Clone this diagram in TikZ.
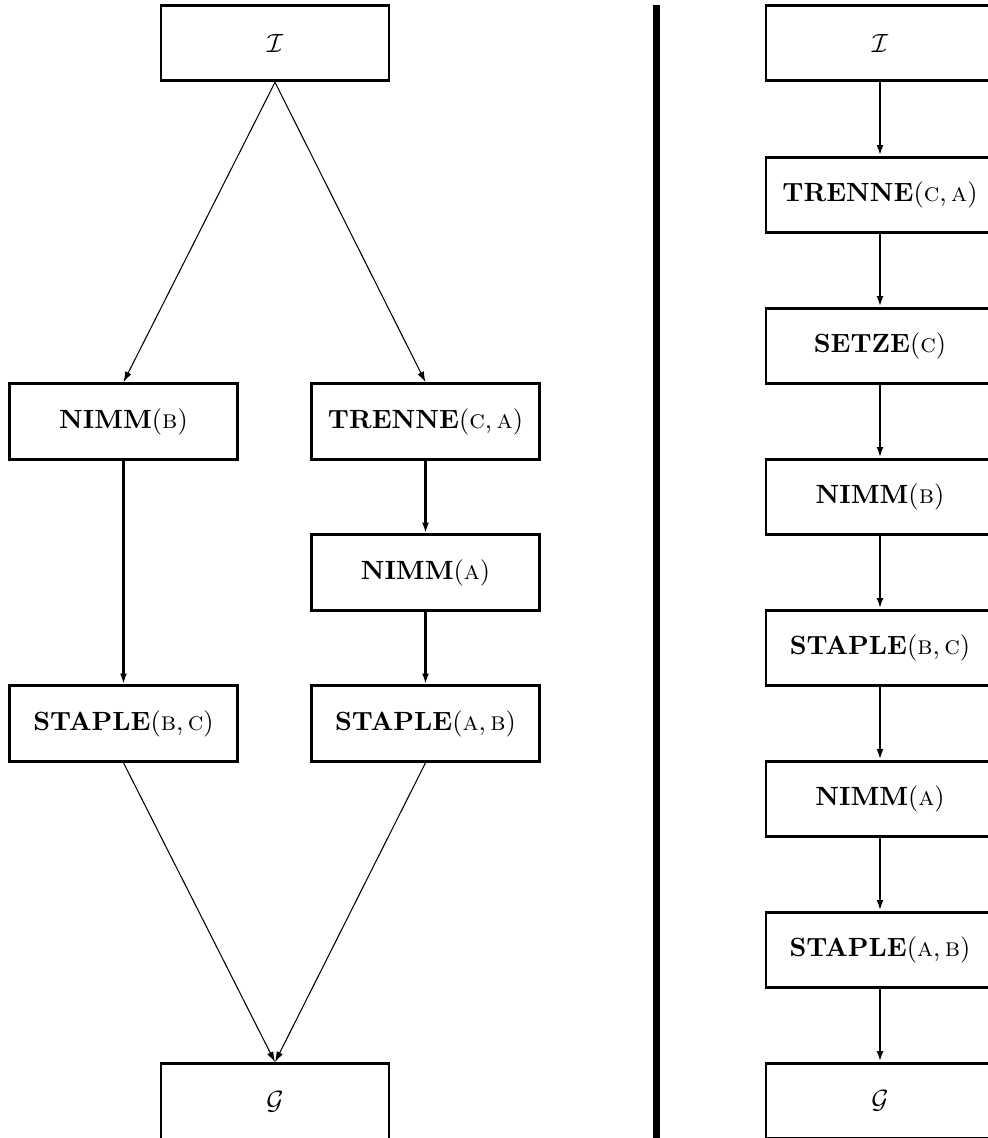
\documentclass[tikz,border=0pt]{standalone}
\usetikzlibrary{arrows.meta}

\tikzset{
  opbox/.style={draw, line width=1.1pt, minimum width=3.04cm, minimum height=1.01cm, inner sep=0pt},
  flow/.style={-{Latex[length=4pt,width=2.6pt]}, line width=0.8pt},
  slant/.style={-{Latex[length=4pt,width=2.6pt]}, line width=0.4pt},
}
\newcommand{\opname}[2]{\textbf{#1}(#2)}

\begin{document}
\begin{tikzpicture}[x=0.01333cm, y=-0.01333cm]
  \useasboundingbox (0,0) rectangle (987,1138);

  % Left plan (parallel)
  \node [opbox] (lstart) at (275, 43) {$\mathcal{I}$};
  \node [opbox] (lnimmb) at (123.5, 421.5) {\opname{NIMM}{\textsc{b}}};
  \node [opbox] (ltrenne) at (425.5, 421.5) {\opname{TRENNE}{\textsc{c},\,\textsc{a}}};
  \node [opbox] (lnimma) at (425.5, 572.5) {\opname{NIMM}{\textsc{a}}};
  \node [opbox] (lstaplebc) at (123.5, 723.5) {\opname{STAPLE}{\textsc{b},\,\textsc{c}}};
  \node [opbox] (lstapleab) at (425.5, 723.5) {\opname{STAPLE}{\textsc{a},\,\textsc{b}}};
  \node [opbox] (lgoal) at (275, 1101.5) {$\mathcal{G}$};

  \draw [slant] (lstart.south) -- (lnimmb.north);
  \draw [slant] (lstart.south) -- (ltrenne.north);
  \draw [flow] (lnimmb) -- (lstaplebc);
  \draw [flow] (ltrenne) -- (lnimma);
  \draw [flow] (lnimma) -- (lstapleab);
  \draw [slant] (lstaplebc.south) -- (lgoal.north);
  \draw [slant] (lstapleab.south) -- (lgoal.north);

  % Separator
  \draw [line width=2.6pt] (656.5, 5) -- (656.5, 1138);

  % Right plan (linear)
  \node [opbox] (rstart) at (880, 43) {$\mathcal{I}$};
  \node [opbox] (rtrenne) at (880, 195) {\opname{TRENNE}{\textsc{c},\,\textsc{a}}};
  \node [opbox] (rsetze) at (880, 346) {\opname{SETZE}{\textsc{c}}};
  \node [opbox] (rnimmb) at (880, 497) {\opname{NIMM}{\textsc{b}}};
  \node [opbox] (rstaplebc) at (880, 648) {\opname{STAPLE}{\textsc{b},\,\textsc{c}}};
  \node [opbox] (rnimma) at (880, 799) {\opname{NIMM}{\textsc{a}}};
  \node [opbox] (rstapleab) at (880, 950) {\opname{STAPLE}{\textsc{a},\,\textsc{b}}};
  \node [opbox] (rgoal) at (880, 1101) {$\mathcal{G}$};

  \foreach \a/\b in {rstart/rtrenne, rtrenne/rsetze, rsetze/rnimmb, rnimmb/rstaplebc,
                     rstaplebc/rnimma, rnimma/rstapleab, rstapleab/rgoal}
    \draw [flow] (\a) -- (\b);

\end{tikzpicture}
\end{document}
